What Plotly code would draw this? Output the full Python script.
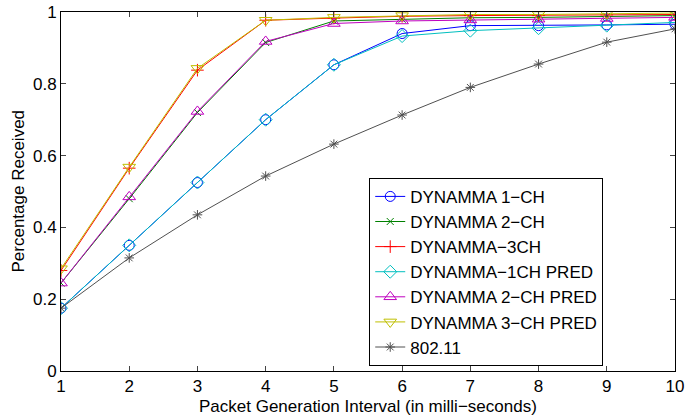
import plotly.graph_objects as go

x = [1, 2, 3, 4, 5, 6, 7, 8, 9, 10]
dyn_1ch = [0.175, 0.350, 0.525, 0.700, 0.853, 0.940, 0.962, 0.962, 0.964, 0.966]
dyn_2ch = [0.245, 0.480, 0.720, 0.915, 0.975, 0.980, 0.984, 0.985, 0.988, 0.990]
dyn_3ch = [0.280, 0.565, 0.838, 0.977, 0.983, 0.988, 0.990, 0.990, 0.992, 0.993]
dyn_1ch_pred = [0.175, 0.350, 0.525, 0.700, 0.853, 0.933, 0.948, 0.955, 0.962, 0.971]
dyn_2ch_pred = [0.245, 0.485, 0.723, 0.918, 0.968, 0.975, 0.978, 0.980, 0.982, 0.985]
dyn_3ch_pred = [0.285, 0.568, 0.843, 0.977, 0.985, 0.990, 0.993, 0.993, 0.995, 0.997]
ieee = [0.175, 0.315, 0.435, 0.543, 0.632, 0.713, 0.790, 0.855, 0.916, 0.953]

x_title = "Packet Generation Interval (in milli\u2212seconds)"
y_title = "Percentage Received"

series = [
    ("DYNAMMA 1\u2212CH", dyn_1ch, "#0000ff", "circle-open", 10),
    ("DYNAMMA 2\u2212CH", dyn_2ch, "#008000", "x-thin-open", 7),
    ("DYNAMMA\u22123CH", dyn_3ch, "#ff0000", "cross-thin-open", 9),
    ("DYNAMMA\u22121CH PRED", dyn_1ch_pred, "#00bfbf", "diamond-open", 10),
    ("DYNAMMA 2\u2212CH PRED", dyn_2ch_pred, "#bf00bf", "triangle-up-open", 11),
    ("DYNAMMA 3\u2212CH PRED", dyn_3ch_pred, "#bfbf00", "triangle-down-open", 11),
    ("802.11", ieee, "#505050", "asterisk-open", 8),
]

fig = go.Figure()
for name, vals, color, sym, size in series:
    fig.add_trace(go.Scatter(
        x=x, y=vals, name=name, mode="lines+markers",
        line=dict(color=color, width=1),
        marker=dict(symbol=sym, size=size, color=color, line=dict(color=color, width=1)),
    ))

font = "Liberation Sans, Arial, sans-serif"
fig.update_layout(
    width=688, height=419,
    margin=dict(l=61, r=13, t=12, b=48, autoexpand=False),
    paper_bgcolor="white", plot_bgcolor="white",
    font=dict(family=font, size=17, color="black"),
    showlegend=True,
    legend=dict(
        x=0.502, y=0.538, xanchor="left", yanchor="top",
        bordercolor="black", borderwidth=1, bgcolor="white",
        font=dict(size=17), tracegroupgap=0, itemwidth=30,
    ),
    xaxis=dict(
        range=[1, 10], tickvals=x, ticks="inside", ticklen=5, automargin=False,
        ticklabelstandoff=0, ticklabeloverflow="allow",
        showline=True, linecolor="black", mirror="ticks", showgrid=False, zeroline=False,
    ),
    yaxis=dict(
        range=[0, 1], tickvals=[0, 0.2, 0.4, 0.6, 0.8, 1],
        ticktext=["0", "0.2", "0.4", "0.6", "0.8", "1"], automargin=False,
        ticklabeloverflow="allow",
        ticks="inside", ticklen=5,
        showline=True, linecolor="black", mirror="ticks", showgrid=False, zeroline=False,
    ),
    annotations=[
        dict(text=x_title, xref="paper", yref="paper", x=0.5, y=0,
             xanchor="center", yanchor="middle", yshift=-35, showarrow=False,
             borderpad=0, font=dict(size=17)),
        dict(text=y_title, xref="paper", yref="paper", x=0, y=0.5,
             xanchor="center", yanchor="middle", xshift=-43, textangle=-90,
             showarrow=False, borderpad=0, font=dict(size=17)),
    ],
)

fig.write_html("out.html", config={"displayModeBar": False},
               post_script="document.body.style.margin='0';")
